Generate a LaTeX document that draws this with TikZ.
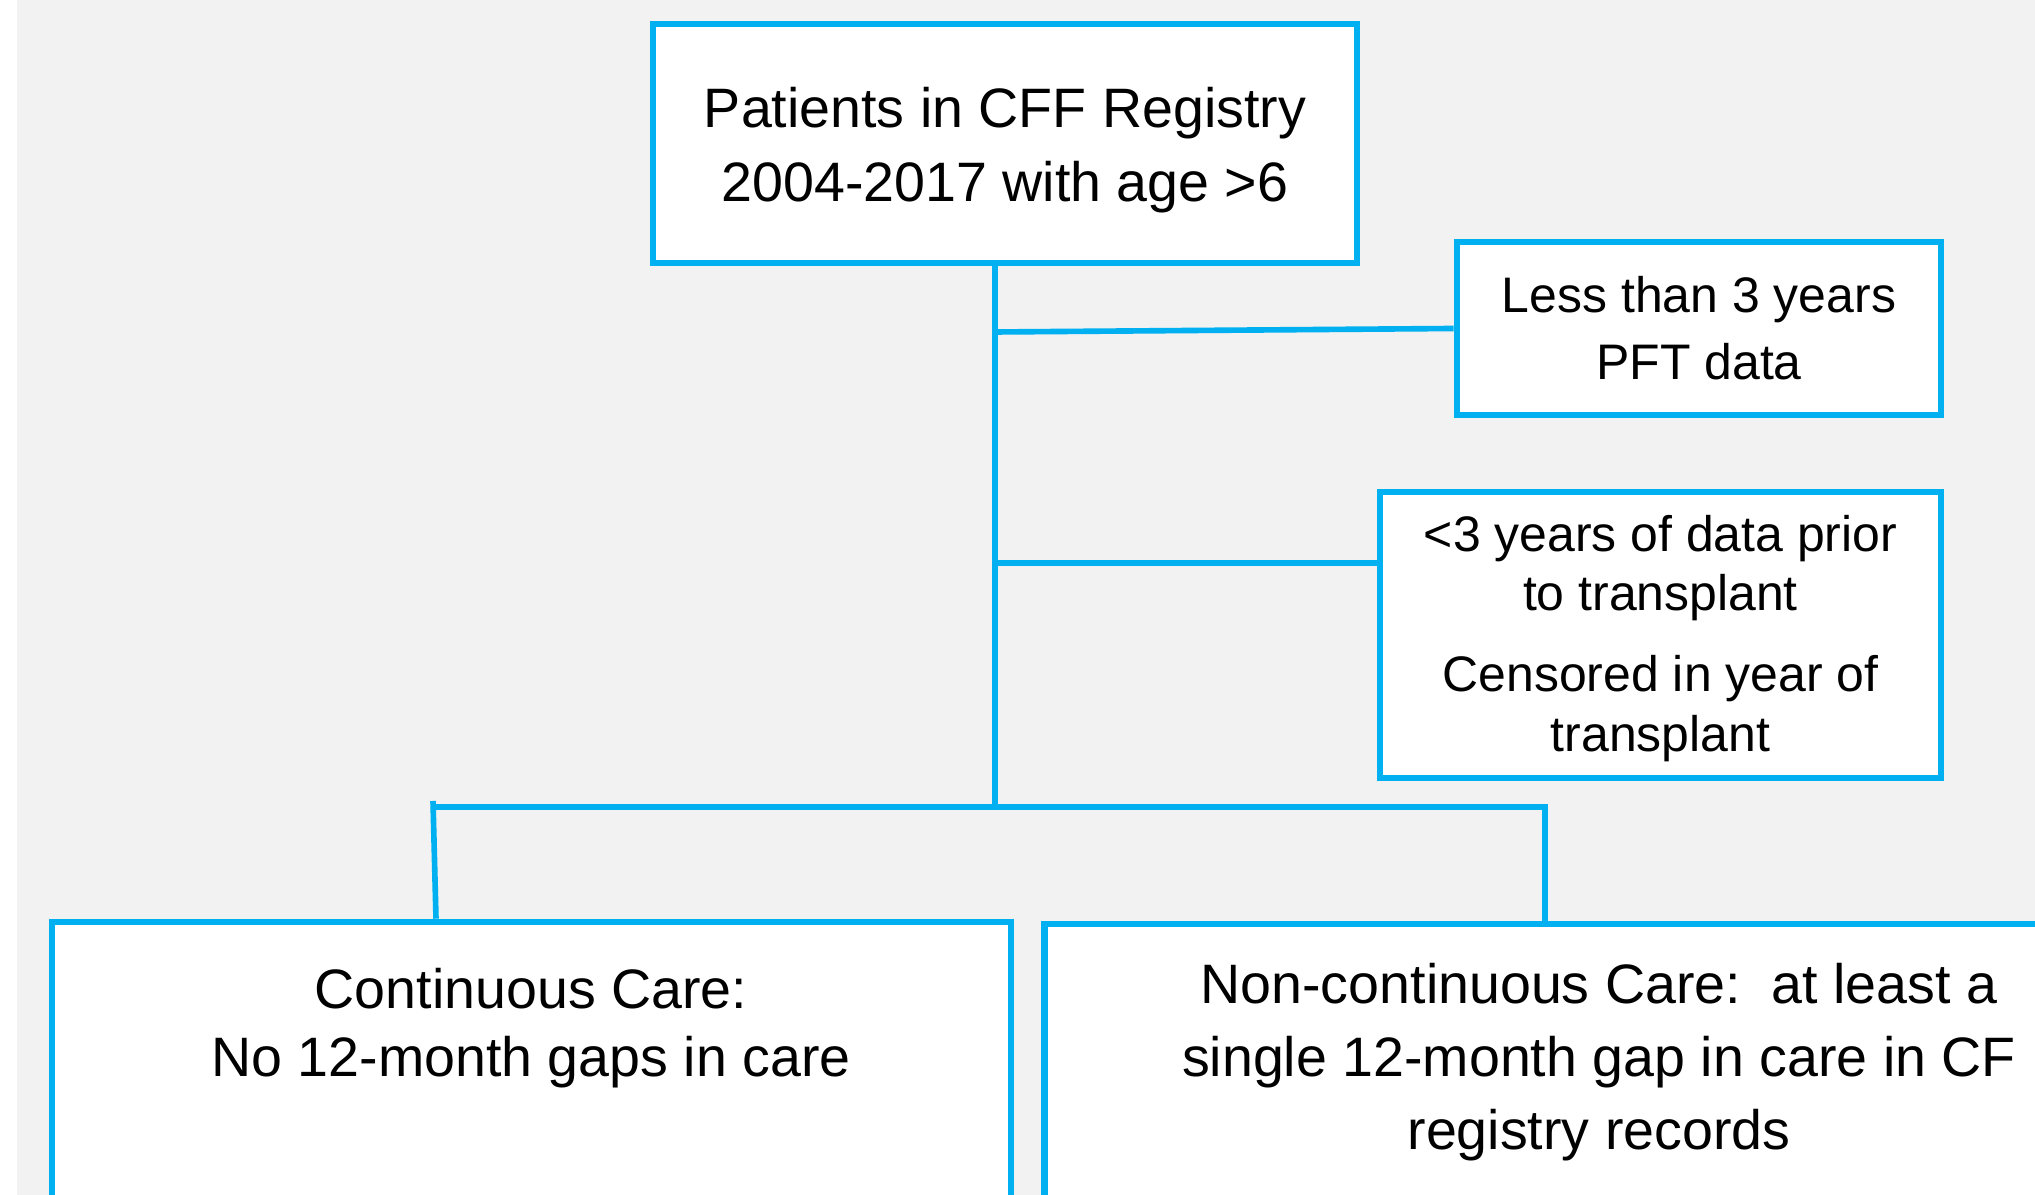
\documentclass[tikz,border=0pt]{standalone}
\usepackage{fontspec}
\setmainfont{Liberation Sans}
\definecolor{cfblue}{HTML}{00B0F0}
\definecolor{cfgray}{HTML}{F2F2F2}
\tikzset{
  box/.style={draw=cfblue, line width=1.8pt, fill=white, align=center, inner sep=0pt},
  link/.style={draw=cfblue, line width=1.6pt},
  big/.style={align=center, font=\fontsize{15.8}{21}\selectfont},
  small/.style={align=center, font=\fontsize{14.2}{19}\selectfont}
}

\begin{document}
\begin{tikzpicture}[x=0.01cm, y=-0.01cm]
  \useasboundingbox (0,0) rectangle (2035,1195);
  \clip (0,0) rectangle (2035,1195);
  \fill[cfgray] (17,0) rectangle (2035,1195);

  % boxes
  \node[box, minimum width=7.04cm, minimum height=2.39cm] (reg) at (1005,143.5) {};
  \node[box, small, minimum width=4.84cm, minimum height=1.73cm] (pft) at (1699,328.5)
    {Less than 3 years\\PFT data};
  \node[box, minimum width=5.61cm, minimum height=2.86cm] (tx) at (1660.5,635) {};
  \node[box, minimum width=9.59cm, minimum height=3.78cm] (cont) at (531.5,1111) {};
  \node[box, minimum width=12.55cm, minimum height=3.76cm] (gap) at (1672.5,1112) {};

  % texts
  \node[big] (reg-txt) at (1005,150)
    {Patients in CFF Registry\\2004-2017 with age >6};
  \node[small, font=\fontsize{14.2}{17}\selectfont] (tx-txt) at (1660.5,638.5)
    {<3 years of data prior\\to transplant\\[6pt]Censored in year of\\transplant};
  \node[big, font=\fontsize{15.8}{19.3}\selectfont] (cont-txt) at (531,1028)
    {Continuous Care:\\No 12-month gaps in care};
  \node[big, font=\fontsize{15.8}{20.8}\selectfont] (gap-txt) at (1599,1062)
    {Non-continuous Care:\ \ at least a\\single 12-month gap in care in CF\\registry records};

  % connectors
  \coordinate (split) at (995,807);
  \coordinate (cut1) at (995,332);
  \coordinate (cut2) at (995,563);
  \coordinate (bar-l) at (433,807);
  \coordinate (bar-r) at (1545,807);
  \draw[link] (reg.south -| split) -- (split);
  \draw[link] (cut1) -- (pft.west);
  \draw[link] (cut2) -- (cut2 -| tx.west);
  \draw[link] (bar-l) -- (bar-r) -- (bar-r |- gap.north);
  \draw[link] ([yshift=0.06cm]bar-l) -- ([xshift=0.03cm]cont.north -| bar-l);
\end{tikzpicture}
\end{document}
